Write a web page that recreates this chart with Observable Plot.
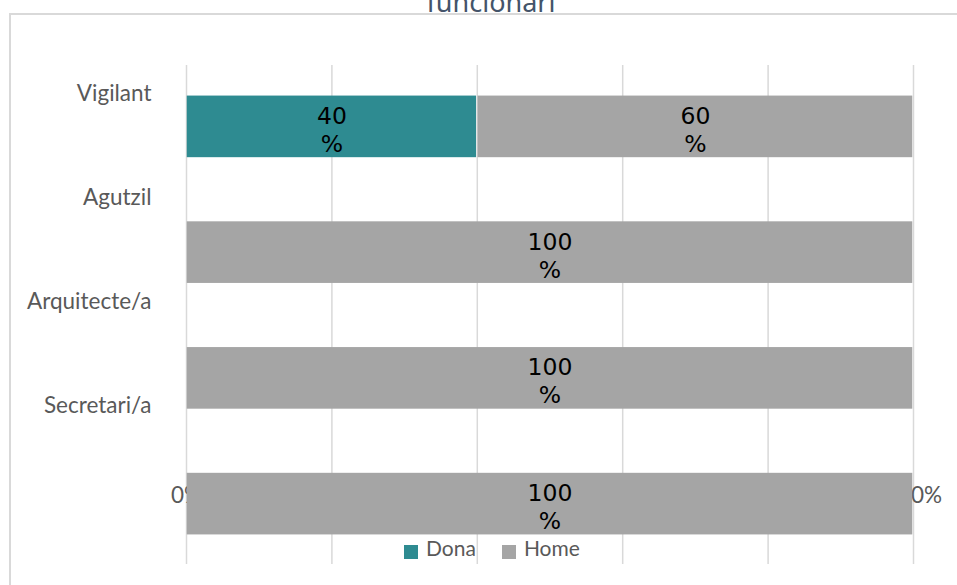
<!DOCTYPE html>
<html>
<head>
<meta charset="utf-8">
<script src="https://cdn.jsdelivr.net/npm/d3@7"></script>
<script src="https://cdn.jsdelivr.net/npm/@observablehq/plot@0.6"></script>
<style>
html, body { margin: 0; padding: 0; background: #fff; overflow: hidden; }
#wrap { position: relative; width: 957px; height: 585px; overflow: hidden; }
#frame { position: absolute; left: 9px; top: 13px; width: 980px; height: 620px; border: 2px solid #d9d9d9; box-sizing: border-box; }
.layer { position: absolute; left: 0; top: 0; }
#title { position: absolute; left: 0; width: 982px; top: -12.5px; text-align: center; font-family: "Noto Sans"; font-size: 27px; line-height: 27px; color: #44546a; white-space: nowrap; }
#legend { position: absolute; left: 404px; top: 535px; display: flex; align-items: center; font-family: Lato; font-size: 21px; color: #595959; }
.item { display: flex; align-items: center; margin-right: 26px; }
.sw { width: 14px; height: 14px; margin-right: 8px; margin-top: 8px; }
</style>
</head>
<body>
<div id="wrap">
  <div id="frame"></div>
  <div id="title">funcionari</div>
</div>
<script>
const categories = ["Vigilant", "Agutzil", "Arquitecte/a", "Secretari/a"];
const dona = [40, 0, 0, 0];
const home = [60, 100, 100, 100];
const series = ["Dona", "Home"];
const seriesColors = ["#2e8b91", "#a5a5a5"];
const xTicks = [0, 20, 40, 60, 80, 100];
const xTickLabels = ["0%", "20%", "40%", "60%", "80%", "100%"];

const data = categories.flatMap((c, i) => [
  {cat: c, sex: series[0], value: dona[i]},
  {cat: c, sex: series[1], value: home[i]}
]);

const wrap = document.getElementById("wrap");

const main = Plot.plot({
  width: 957, height: 585,
  marginLeft: 186, marginRight: 44, marginTop: 65, marginBottom: 21,
  style: {background: "transparent", fontFamily: "Lato"},
  x: {domain: [0, 100], axis: null},
  y: {domain: categories, range: [63.5, 566.5], round: false, paddingInner: 0.51, paddingOuter: 0.255, axis: null},
  color: {domain: series, range: seriesColors},
  marks: [
    Plot.gridX(xTicks, {stroke: "#d9d9d9", strokeOpacity: 1, strokeWidth: 1.5}),
    Plot.text(xTicks, {x: d => d, text: (d, i) => xTickLabels[i], frameAnchor: "bottom", dy: -62, fill: "#595959", fontSize: 22.5, fontFamily: "Lato"}),
    Plot.barX(data, Plot.stackX({x: "value", y: "cat", fill: "sex", insetLeft: 0.75, insetRight: 0.75})),
    Plot.text(data.filter(d => d.value > 0), Plot.stackX({
      x: "value", y: "cat", text: d => d.value + "\n%",
      fill: "#000", fontSize: 23.5, fontFamily: "DejaVu Sans", lineHeight: 1.2, dy: 2
    }))
  ]
});
main.classList.add("layer");
wrap.appendChild(main);

const labels = Plot.plot({
  width: 957, height: 585,
  marginLeft: 151, marginRight: 0, marginTop: 92, marginBottom: 585 - 406.5,
  style: {background: "transparent", fontFamily: "Lato"},
  y: {type: "point", domain: categories, padding: 0, axis: null},
  marks: [
    Plot.text(categories, {y: d => d, text: d => d, frameAnchor: "left", textAnchor: "end", fill: "#595959", fontSize: 22.5, fontFamily: "Lato"})
  ]
});
labels.classList.add("layer");
wrap.appendChild(labels);

const legend = document.createElement("div");
legend.id = "legend";
series.forEach((s, i) => {
  const item = document.createElement("div");
  item.className = "item";
  const sw = document.createElement("div");
  sw.className = "sw";
  sw.style.background = seriesColors[i];
  const t = document.createElement("span");
  t.textContent = s;
  item.appendChild(sw);
  item.appendChild(t);
  legend.appendChild(item);
});
wrap.appendChild(legend);
</script>
</body>
</html>
